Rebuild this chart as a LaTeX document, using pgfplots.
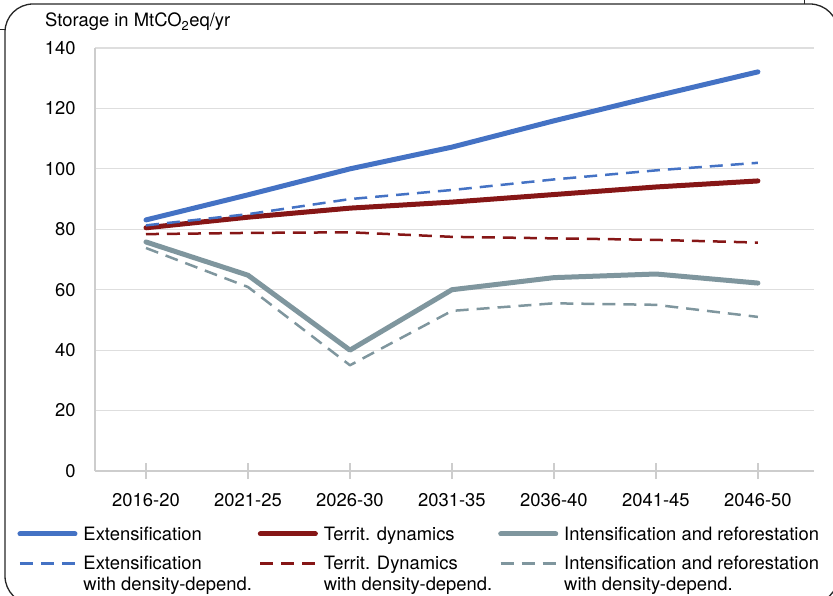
\documentclass[border=0pt]{standalone}
\usepackage{pgfplots}
\pgfplotsset{compat=1.18}
\usepackage{fontspec}
\setmainfont{TeX Gyre Heros}

\definecolor{extblue}{RGB}{68,114,196}
\definecolor{terrred}{RGB}{134,22,22}
\definecolor{intgrey}{RGB}{127,150,158}
\definecolor{gridgrey}{RGB}{222,222,222}
\definecolor{axisgrey}{RGB}{205,205,205}

\newcommand{\twoline}[2]{\begin{tabular}[t]{@{}l@{}}#1\\#2\end{tabular}}

\begin{document}
\fontsize{18.4}{21}\selectfont
\begin{tikzpicture}[x=1pt,y=1pt]
\useasboundingbox (0,0) rectangle (833,-596);
% frame of the page box
\draw[line width=1.3pt, black!85, rounded corners=28pt] (5,-604) rectangle (838,-4);
\draw[line width=1pt, black!85] (0,-30) -- (5,-30);
\draw[line width=1pt, black!85] (804,0) -- (804,-4);
\node[anchor=base west, inner sep=0pt] at (45,-27) {Storage in MtCO\textsubscript{2}eq/yr};

\begin{axis}[
    at={(95pt,-471pt)}, anchor=south west,
    scale only axis, width=719pt, height=423pt,
    xmin=-0.5, xmax=6.55,
    ymin=0, ymax=140,
    xtick={0,...,6},
    xticklabels={2016-20,2021-25,2026-30,2031-35,2036-40,2041-45,2046-50},
    ytick={0,20,...,140},
    axis x line*=bottom,
    axis y line*=left,
    axis line style={axisgrey, line width=1.5pt},
    ymajorgrids,
    grid style={gridgrey, line width=1.2pt},
    xtick style={axisgrey, line width=1.5pt},
    ytick style={draw=none},
    major tick length=16pt,
    tick align=center,
    xticklabel shift=8pt,
    yticklabel shift=5pt,
    /pgf/number format/assume math mode=true,
    legend columns=3,
    legend image code/.code={\draw[#1] (0pt,6.5pt) -- (55pt,6.5pt);},
    legend style={at={(-0.1078,-0.1324)}, anchor=north west,
        draw=none, fill=none, inner sep=0pt, outer sep=0pt,
        row sep=12pt, column sep=6pt,
        nodes={inner sep=0pt},
        cells={anchor=base west},
        /tikz/every even column/.append style={column sep=6pt}},
    every axis plot/.append style={line join=round},
]
\addplot[extblue, line width=5pt, line cap=round] coordinates {
    (0,83.1) (1,91.4) (2,100) (3,107.2) (4,115.9) (5,124.1) (6,132.1)};
\addlegendentry{Extensification}
\addplot[terrred, line width=5pt, line cap=round] coordinates {
    (0,80.5) (1,84) (2,87) (3,89) (4,91.5) (5,94) (6,96)};
\addlegendentry{Territ. dynamics}
\addplot[intgrey, line width=5pt, line cap=round] coordinates {
    (0,75.8) (1,64.8) (2,40) (3,60) (4,64) (5,65.2) (6,62.2)};
\addlegendentry{Intensification and reforestation}
\addplot[extblue, line width=2.5pt, dash pattern=on 13pt off 8pt] coordinates {
    (0,81.3) (1,85) (2,90) (3,93) (4,96.5) (5,99.5) (6,102)};
\addlegendentry{\twoline{Extensification}{with density-depend.}}
\addplot[terrred, line width=2.5pt, dash pattern=on 13pt off 8pt] coordinates {
    (0,78.4) (1,78.8) (2,79) (3,77.5) (4,77) (5,76.5) (6,75.6)};
\addlegendentry{\twoline{Territ. Dynamics}{with density-depend.}}
\addplot[intgrey, line width=2.5pt, dash pattern=on 13pt off 8pt] coordinates {
    (0,73.8) (1,60.9) (2,35) (3,53) (4,55.5) (5,55) (6,51)};
\addlegendentry{\twoline{Intensification and reforestation}{with density-depend.}}
\end{axis}
\end{tikzpicture}
\end{document}
